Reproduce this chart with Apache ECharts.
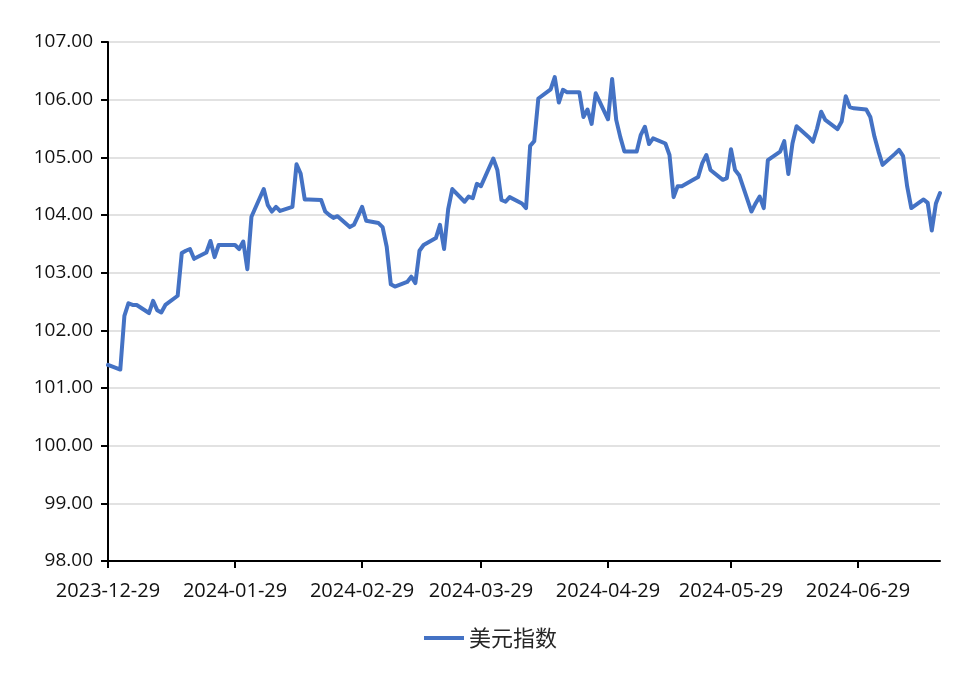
<!DOCTYPE html>
<html>
<head>
<meta charset="utf-8">
<script src="https://cdn.jsdelivr.net/npm/echarts@6/dist/echarts.min.js"></script>
<style>
  html, body { margin: 0; padding: 0; background: #ffffff; }
  #chart { width: 979px; height: 673px; }
</style>
</head>
<body>
<div id="chart"></div>
<script>
// ---- data ----
const seriesName = '美元指数';
const dates = [
  '2023-12-29','2024-01-01','2024-01-02','2024-01-03','2024-01-04','2024-01-05',
  '2024-01-08','2024-01-09','2024-01-10','2024-01-11','2024-01-12',
  '2024-01-15','2024-01-16','2024-01-17','2024-01-18','2024-01-19',
  '2024-01-22','2024-01-23','2024-01-24','2024-01-25','2024-01-26',
  '2024-01-29','2024-01-30','2024-01-31','2024-02-01','2024-02-02',
  '2024-02-05','2024-02-06','2024-02-07','2024-02-08','2024-02-09',
  '2024-02-12','2024-02-13','2024-02-14','2024-02-15','2024-02-16',
  '2024-02-19','2024-02-20','2024-02-21','2024-02-22','2024-02-23',
  '2024-02-26','2024-02-27','2024-02-28','2024-02-29','2024-03-01',
  '2024-03-04','2024-03-05','2024-03-06','2024-03-07','2024-03-08',
  '2024-03-11','2024-03-12','2024-03-13','2024-03-14','2024-03-15',
  '2024-03-18','2024-03-19','2024-03-20','2024-03-21','2024-03-22',
  '2024-03-25','2024-03-26','2024-03-27','2024-03-28','2024-03-29',
  '2024-04-01','2024-04-02','2024-04-03','2024-04-04','2024-04-05',
  '2024-04-08','2024-04-09','2024-04-10','2024-04-11','2024-04-12',
  '2024-04-15','2024-04-16','2024-04-17','2024-04-18','2024-04-19',
  '2024-04-22','2024-04-23','2024-04-24','2024-04-25','2024-04-26',
  '2024-04-29','2024-04-30','2024-05-01','2024-05-02','2024-05-03',
  '2024-05-06','2024-05-07','2024-05-08','2024-05-09','2024-05-10',
  '2024-05-13','2024-05-14','2024-05-15','2024-05-16','2024-05-17',
  '2024-05-20','2024-05-21','2024-05-22','2024-05-23','2024-05-24',
  '2024-05-27','2024-05-28','2024-05-29','2024-05-30','2024-05-31',
  '2024-06-03','2024-06-04','2024-06-05','2024-06-06','2024-06-07',
  '2024-06-10','2024-06-11','2024-06-12','2024-06-13','2024-06-14',
  '2024-06-17','2024-06-18','2024-06-19','2024-06-20','2024-06-21',
  '2024-06-24','2024-06-25','2024-06-26','2024-06-27','2024-06-28',
  '2024-07-01','2024-07-02','2024-07-03','2024-07-04','2024-07-05',
  '2024-07-08','2024-07-09','2024-07-10','2024-07-11','2024-07-12',
  '2024-07-15','2024-07-16','2024-07-17','2024-07-18','2024-07-19'
];
const dxyValues = [
  101.40,101.32,102.25,102.47,102.44,102.44,
  102.30,102.51,102.35,102.31,102.44,
  102.60,103.34,103.38,103.41,103.24,
  103.35,103.55,103.27,103.48,103.48,
  103.48,103.41,103.54,103.06,103.97,
  104.45,104.17,104.06,104.14,104.07,
  104.14,104.88,104.72,104.27,104.27,
  104.26,104.06,104.00,103.95,103.98,
  103.79,103.83,103.98,104.14,103.90,
  103.86,103.79,103.45,102.80,102.76,
  102.84,102.93,102.82,103.38,103.48,
  103.60,103.83,103.41,104.10,104.45,
  104.23,104.32,104.29,104.54,104.50,
  104.98,104.78,104.26,104.23,104.31,
  104.20,104.12,105.20,105.28,106.02,
  106.18,106.39,105.95,106.17,106.13,
  106.13,105.70,105.83,105.58,106.11,
  105.66,106.36,105.65,105.35,105.10,
  105.10,105.39,105.53,105.23,105.33,
  105.24,105.04,104.31,104.50,104.50,
  104.62,104.66,104.90,105.04,104.78,
  104.61,104.64,105.14,104.78,104.69,
  104.06,104.20,104.32,104.12,104.95,
  105.10,105.28,104.71,105.24,105.54,
  105.35,105.27,105.50,105.79,105.65,
  105.49,105.62,106.06,105.87,105.85,
  105.83,105.70,105.36,105.10,104.87,
  105.06,105.13,105.02,104.49,104.12,
  104.27,104.21,103.73,104.20,104.38
];
const xTickLabels = ['2023-12-29','2024-01-29','2024-02-29','2024-03-29','2024-04-29','2024-05-29','2024-06-29'];
const xRange = ['2023-12-29','2024-07-19'];
const yMin = 98, yMax = 107, yStep = 1;

// ---- helpers: the x axis is a day-count axis measured from the first date ----
const DAY = 86400000;
function toUtc(s) {
  const p = s.split('-').map(Number);
  return Date.UTC(p[0], p[1] - 1, p[2]);
}
const origin = toUtc(xRange[0]);
function dayIndex(s) { return Math.round((toUtc(s) - origin) / DAY); }

const seriesData = dates.map((d, i) => [dayIndex(d), dxyValues[i]]);
const tickDays = xTickLabels.map(dayIndex);
const labelByDay = {};
xTickLabels.forEach((s, i) => { labelByDay[tickDays[i]] = s; });

const numFont = '"Open Sans", "Noto Sans", sans-serif';
const chart = echarts.init(document.getElementById('chart'), null, { renderer: 'canvas' });
chart.setOption({
  backgroundColor: '#ffffff',
  animation: false,
  grid: { left: 108, right: 39, top: 42, bottom: 112, containLabel: false },
  legend: {
    data: [seriesName],
    left: 419,
    top: 622,
    icon: 'rect',
    itemWidth: 40,
    itemHeight: 4,
    textStyle: { fontFamily: '"Noto Sans CJK SC", sans-serif', fontSize: 22, color: '#262626' }
  },
  xAxis: {
    type: 'value',
    min: 0,
    max: dayIndex(xRange[1]),
    axisLine: { show: true, onZero: false, lineStyle: { color: '#000000', width: 2 } },
    axisTick: { show: true, length: 7, lineStyle: { color: '#000000', width: 2 }, customValues: tickDays },
    axisLabel: {
      customValues: tickDays,
      formatter: function (v) { return labelByDay[Math.round(v)] || ''; },
      fontFamily: numFont,
      fontSize: 20,
      color: '#111111',
      margin: 20,
      hideOverlap: false
    },
    splitLine: { show: false }
  },
  yAxis: {
    type: 'value',
    min: yMin,
    max: yMax,
    interval: yStep,
    axisLine: { show: true, lineStyle: { color: '#000000', width: 2 } },
    axisTick: { show: true, length: 7, lineStyle: { color: '#000000', width: 2 } },
    axisLabel: {
      formatter: function (v) { return v.toFixed(2); },
      fontFamily: numFont,
      fontSize: 19,
      color: '#111111',
      margin: 15
    },
    splitLine: { show: true, lineStyle: { color: '#d9d9d9', width: 1.5 } }
  },
  series: [{
    name: seriesName,
    type: 'line',
    data: seriesData,
    showSymbol: false,
    symbol: 'none',
    lineStyle: { color: '#4472C4', width: 4, join: 'round', cap: 'round' },
    itemStyle: { color: '#4472C4' }
  }]
});
</script>
</body>
</html>
